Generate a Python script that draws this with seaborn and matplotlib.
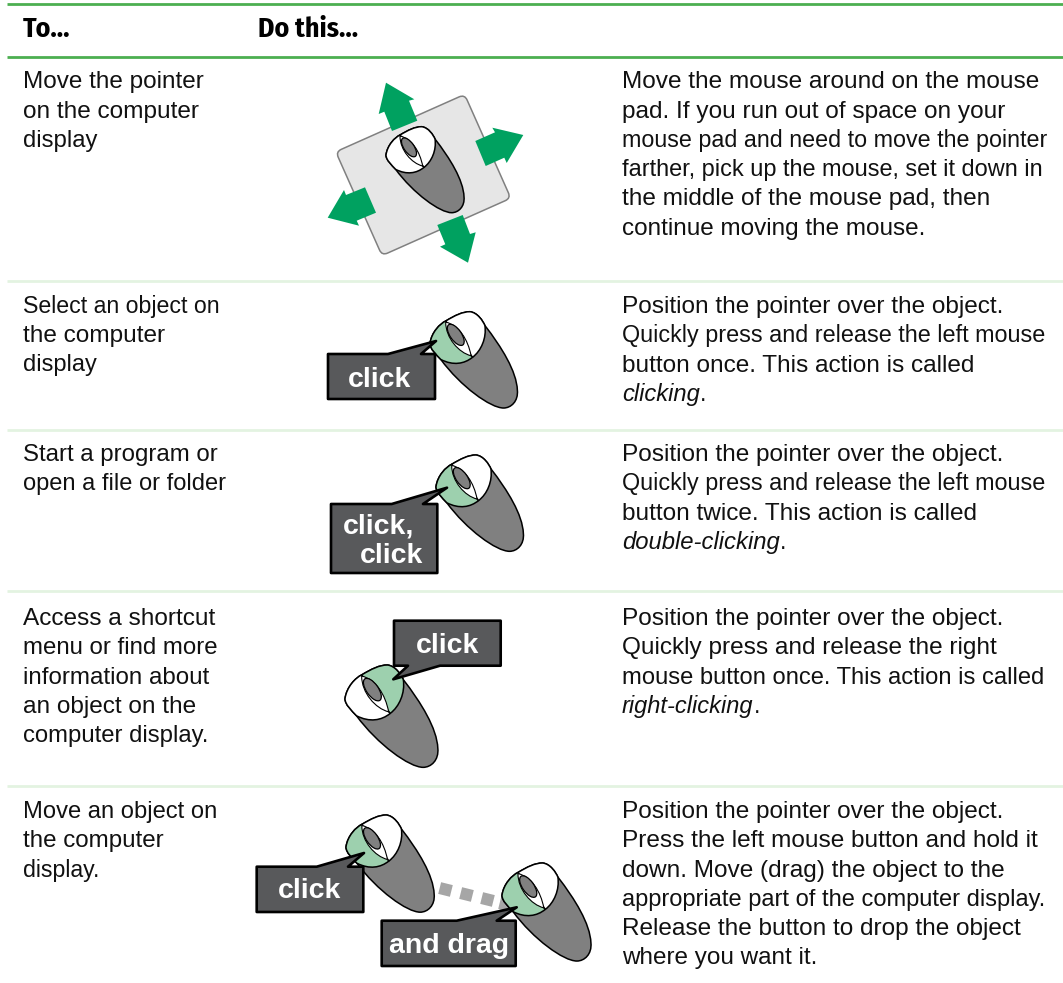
import matplotlib
matplotlib.use('Agg')
import matplotlib.pyplot as plt
import seaborn as sns
from matplotlib.patches import FancyBboxPatch, PathPatch, Polygon, Ellipse
from matplotlib.path import Path
from matplotlib.transforms import Affine2D

sns.set_theme(style='white')
plt.rcParams['font.family'] = ['Liberation Sans', 'DejaVu Sans']

# table text
headers = ['To...', 'Do this...']
actions = [
    ['Move the pointer', 'on the computer', 'display'],
    ['Select an object on', 'the computer', 'display'],
    ['Start a program or', 'open a file or folder'],
    ['Access a shortcut', 'menu or find more', 'information about', 'an object on the', 'computer display.'],
    ['Move an object on', 'the computer', 'display.'],
]
action_ends = [[203, 200, 97], [219, 165, 96], [217, 224], [216, 217, 209, 198, 208], [217, 164, 99]]
steps = [
    ['Move the mouse around on the mouse', 'pad. If you run out of space on your',
     'mouse pad and need to move the pointer', 'farther, pick up the mouse, set it down in',
     'the middle of the mouse pad, then', 'continue moving the mouse.'],
    ['Position the pointer over the object.', 'Quickly press and release the left mouse',
     'button once. This action is called', '*clicking'],
    ['Position the pointer over the object.', 'Quickly press and release the left mouse',
     'button twice. This action is called', '*double-clicking'],
    ['Position the pointer over the object.', 'Quickly press and release the right',
     'mouse button once. This action is called', '*right-clicking'],
    ['Position the pointer over the object.', 'Press the left mouse button and hold it',
     'down. Move (drag) the object to the', 'appropriate part of the computer display.',
     'Release the button to drop the object', 'where you want it.'],
]
step_ends = [
    [1040, 1011.7, 1045, 1042, 993, 924],
    [1002.7, 1043.3, 976, 700],
    [1002.7, 1043.3, 978.3, 780],
    [1002.7, 998.3, 1042.3, 753],
    [1002.7, 1040, 1006.7, 1042.7, 1023.3, 817.3],
]
row_baselines = [88.3, 313, 461, 625, 818]
line_gap = 29.25
rule_main = [3.7, 56.5]
rule_light = [280.5, 429.6, 591.3, 785.6]

# mouse drawings: left, top, scale, pressed button
mice = [
    (386, 126.7, 1.0, None),
    (430, 311.7, 1.12, 'left'),
    (436, 455, 1.12, 'left'),
    (345, 665, 1.19, 'right'),
    (346, 815, 1.13, 'left'),
    (502, 863, 1.14, 'left'),
]
# callouts: box left, top, right, bottom, pointer base, tip x, tip y, pointer back
callouts = [
    (328, 354, 435, 399, 388, 436, 341, 421),
    (331, 504, 437.3, 573, 391.7, 447, 487.7, 423),
    (394, 620.7, 500.7, 665.7, 440, 393.3, 679.3, 408),
    (256.7, 866.7, 363.3, 912, 316.7, 364, 853, 348),
    (381.7, 920.7, 515.7, 966, 456.7, 516.7, 907.3, 496.7),
]
callout_labels = [('click', 348, 386.7), ('click,', 343, 533), ('click', 360, 563),
                  ('click', 416, 652.7), ('click', 278, 898), ('and drag', 389, 952.7)]
drag_x = [445, 466, 486.7, 505]
drag_y = [889, 894.3, 899.3, 904]
arrows = [
    [(386, 82.7), (414.3, 99.3), (409, 100.7), (417.3, 120.7), (392, 131), (384.3, 111.7), (378.7, 114)],
    [(523.3, 135), (492.3, 127.7), (495, 132.3), (475.3, 141), (485.7, 166), (504.3, 157.7), (506.7, 163)],
    [(327.7, 217.7), (344, 190), (346, 195), (365, 187.3), (376, 212.7), (356.7, 220.7), (359, 225.7)],
    [(468, 262.7), (440, 246.7), (445.3, 244.3), (437.3, 225), (462.7, 215), (470, 234), (475.7, 232.3)],
]

GREEN = '#4caf50'
LIGHT = '#e3f3e1'
ARROW = '#00a160'
GRAY = '#808080'
PRESSED = '#9dd0ae'
BOX = '#58595b'
INK = '#111111'
BODY_SIZE = 16.7


def make_path(start, curves):
    verts = [start]
    codes = [Path.MOVETO]
    for seg in curves:
        verts.extend(seg)
        codes.extend([Path.CURVE4] * 3 if len(seg) == 3 else [Path.LINETO])
    verts.append(start)
    codes.append(Path.CLOSEPOLY)
    return verts, codes


def draw_mouse(ax, left, top, scale, button):
    # shapes were traced at 3x, so everything is divided by 3 here
    def place(verts):
        return [(left + (x - 258) / 3 * scale, top + (y - 200) / 3 * scale) for x, y in verts]

    def shape(start, curves, color, lw=1.1, z=5):
        v, c = make_path(start, curves)
        ax.add_patch(PathPatch(Path(place(v), c), fc=color, ec='black', lw=lw, zorder=z, joinstyle='round'))

    shape((258, 285), [[(262, 255), (285, 232), (300, 225)], [(325, 210), (345, 200), (365, 200)],
                       [(385, 202), (400, 225), (405, 237)], [(450, 295), (490, 360), (492, 410)],
                       [(495, 440), (475, 458), (455, 458)], [(420, 458), (340, 400), (287, 328)],
                       [(275, 315), (258, 300), (258, 285)]], GRAY)
    shape((287, 328), [[(320, 345), (350, 340), (372, 322)], [(300, 225)],
                       [(285, 232), (262, 255), (258, 285)], [(258, 300), (275, 315), (287, 328)]],
          PRESSED if button == 'left' else 'white')
    shape((372, 322), [[(395, 305), (410, 270), (405, 237)], [(400, 225), (385, 202), (365, 200)],
                       [(345, 200), (325, 210), (300, 225)]],
          PRESSED if button == 'right' else 'white')
    shape((300, 228), [[(335, 235), (360, 275), (368, 318)], [(335, 310), (300, 270), (300, 228)]], 'white', lw=0.8, z=6)
    cx, cy = place([(327, 262)])[0]
    ax.add_patch(Ellipse((cx, cy), 22 * scale, 10 * scale, angle=55, fc=GRAY, ec='black', lw=0.9, zorder=7))


def draw_callout(ax, left, top, right, bottom, base, tip_x, tip_y, back):
    if tip_y > bottom:
        # pointer hangs off the lower edge
        pts = [(left, top), (right, top), (right, bottom), (base, bottom), (tip_x, tip_y), (back, bottom), (left, bottom)]
    else:
        pts = [(left, top), (base, top), (tip_x, tip_y), (back, top), (right, top), (right, bottom), (left, bottom)]
    ax.add_patch(Polygon(pts, closed=True, fc=BOX, ec='black', lw=1.9, joinstyle='round', zorder=8))


def draw_lines(ax, x, y, lines, ends):
    renderer = ax.figure.canvas.get_renderer()
    for i, (line, end) in enumerate(zip(lines, ends)):
        yy = y + i * line_gap
        italic = line.startswith('*')
        t = ax.text(x, yy, line.lstrip('*'), fontsize=BODY_SIZE, style='italic' if italic else 'normal',
                    va='baseline', color=INK)
        # the source is justified a little, so nudge each line to its width
        width = t.get_window_extent(renderer).width
        t.set_fontsize(min(17.6, max(16.3, BODY_SIZE * (end - x) / width)))
        if italic:
            ax.text(t.get_window_extent(renderer).x1, yy, '.', fontsize=BODY_SIZE, va='baseline', color=INK)


fig, ax = plt.subplots(figsize=(10.63, 9.83), dpi=100)
fig.subplots_adjust(left=0, right=1, bottom=0, top=1)
ax.set_xlim(0, 1063)
ax.set_ylim(983, 0)

ax.hlines(rule_main, 7, 1063, color=GREEN, lw=2.0, zorder=1)
ax.hlines(rule_light, 7, 1063, color=LIGHT, lw=2.0, zorder=1)

head_font = ['Fira Sans Condensed', 'DejaVu Sans']
ax.text(23, 37, headers[0], fontsize=20, fontweight='bold', family=head_font, va='baseline', color='black')
ax.text(258, 37, headers[1], fontsize=20, fontweight='bold', family=head_font, va='baseline', color='black')

for y, action, a_end, step, s_end in zip(row_baselines, actions, action_ends, steps, step_ends):
    draw_lines(ax, 23, y, action, a_end)
    draw_lines(ax, 622, y, step, s_end)

# mouse pad with its four arrows
pad_rot = Affine2D().rotate_deg_around(423.3, 175, -24) + ax.transData
ax.add_patch(FancyBboxPatch((423.3 - 70.5, 175 - 56.8), 141, 113.6, boxstyle='round,pad=0,rounding_size=6',
                            fc='#e6e6e6', ec='#808080', lw=1.1, transform=pad_rot, zorder=2))
for arrow in arrows:
    ax.add_patch(Polygon(arrow, closed=True, fc=ARROW, ec='none', zorder=3))

sns.scatterplot(x=drag_x, y=drag_y, marker=(4, 0, 31), s=150, color='#a6a6a6', linewidth=0, ax=ax, zorder=4)

for left, top, scale, button in mice:
    draw_mouse(ax, left, top, scale, button)
for c in callouts:
    draw_callout(ax, *c)
for label, x, y in callout_labels:
    ax.text(x, y, label, fontsize=20.5, fontweight='bold', color='white', va='baseline', zorder=9)

ax.set_xlim(0, 1063)
ax.set_ylim(983, 0)
ax.axis('off')

plt.savefig('out.png', dpi=100)
